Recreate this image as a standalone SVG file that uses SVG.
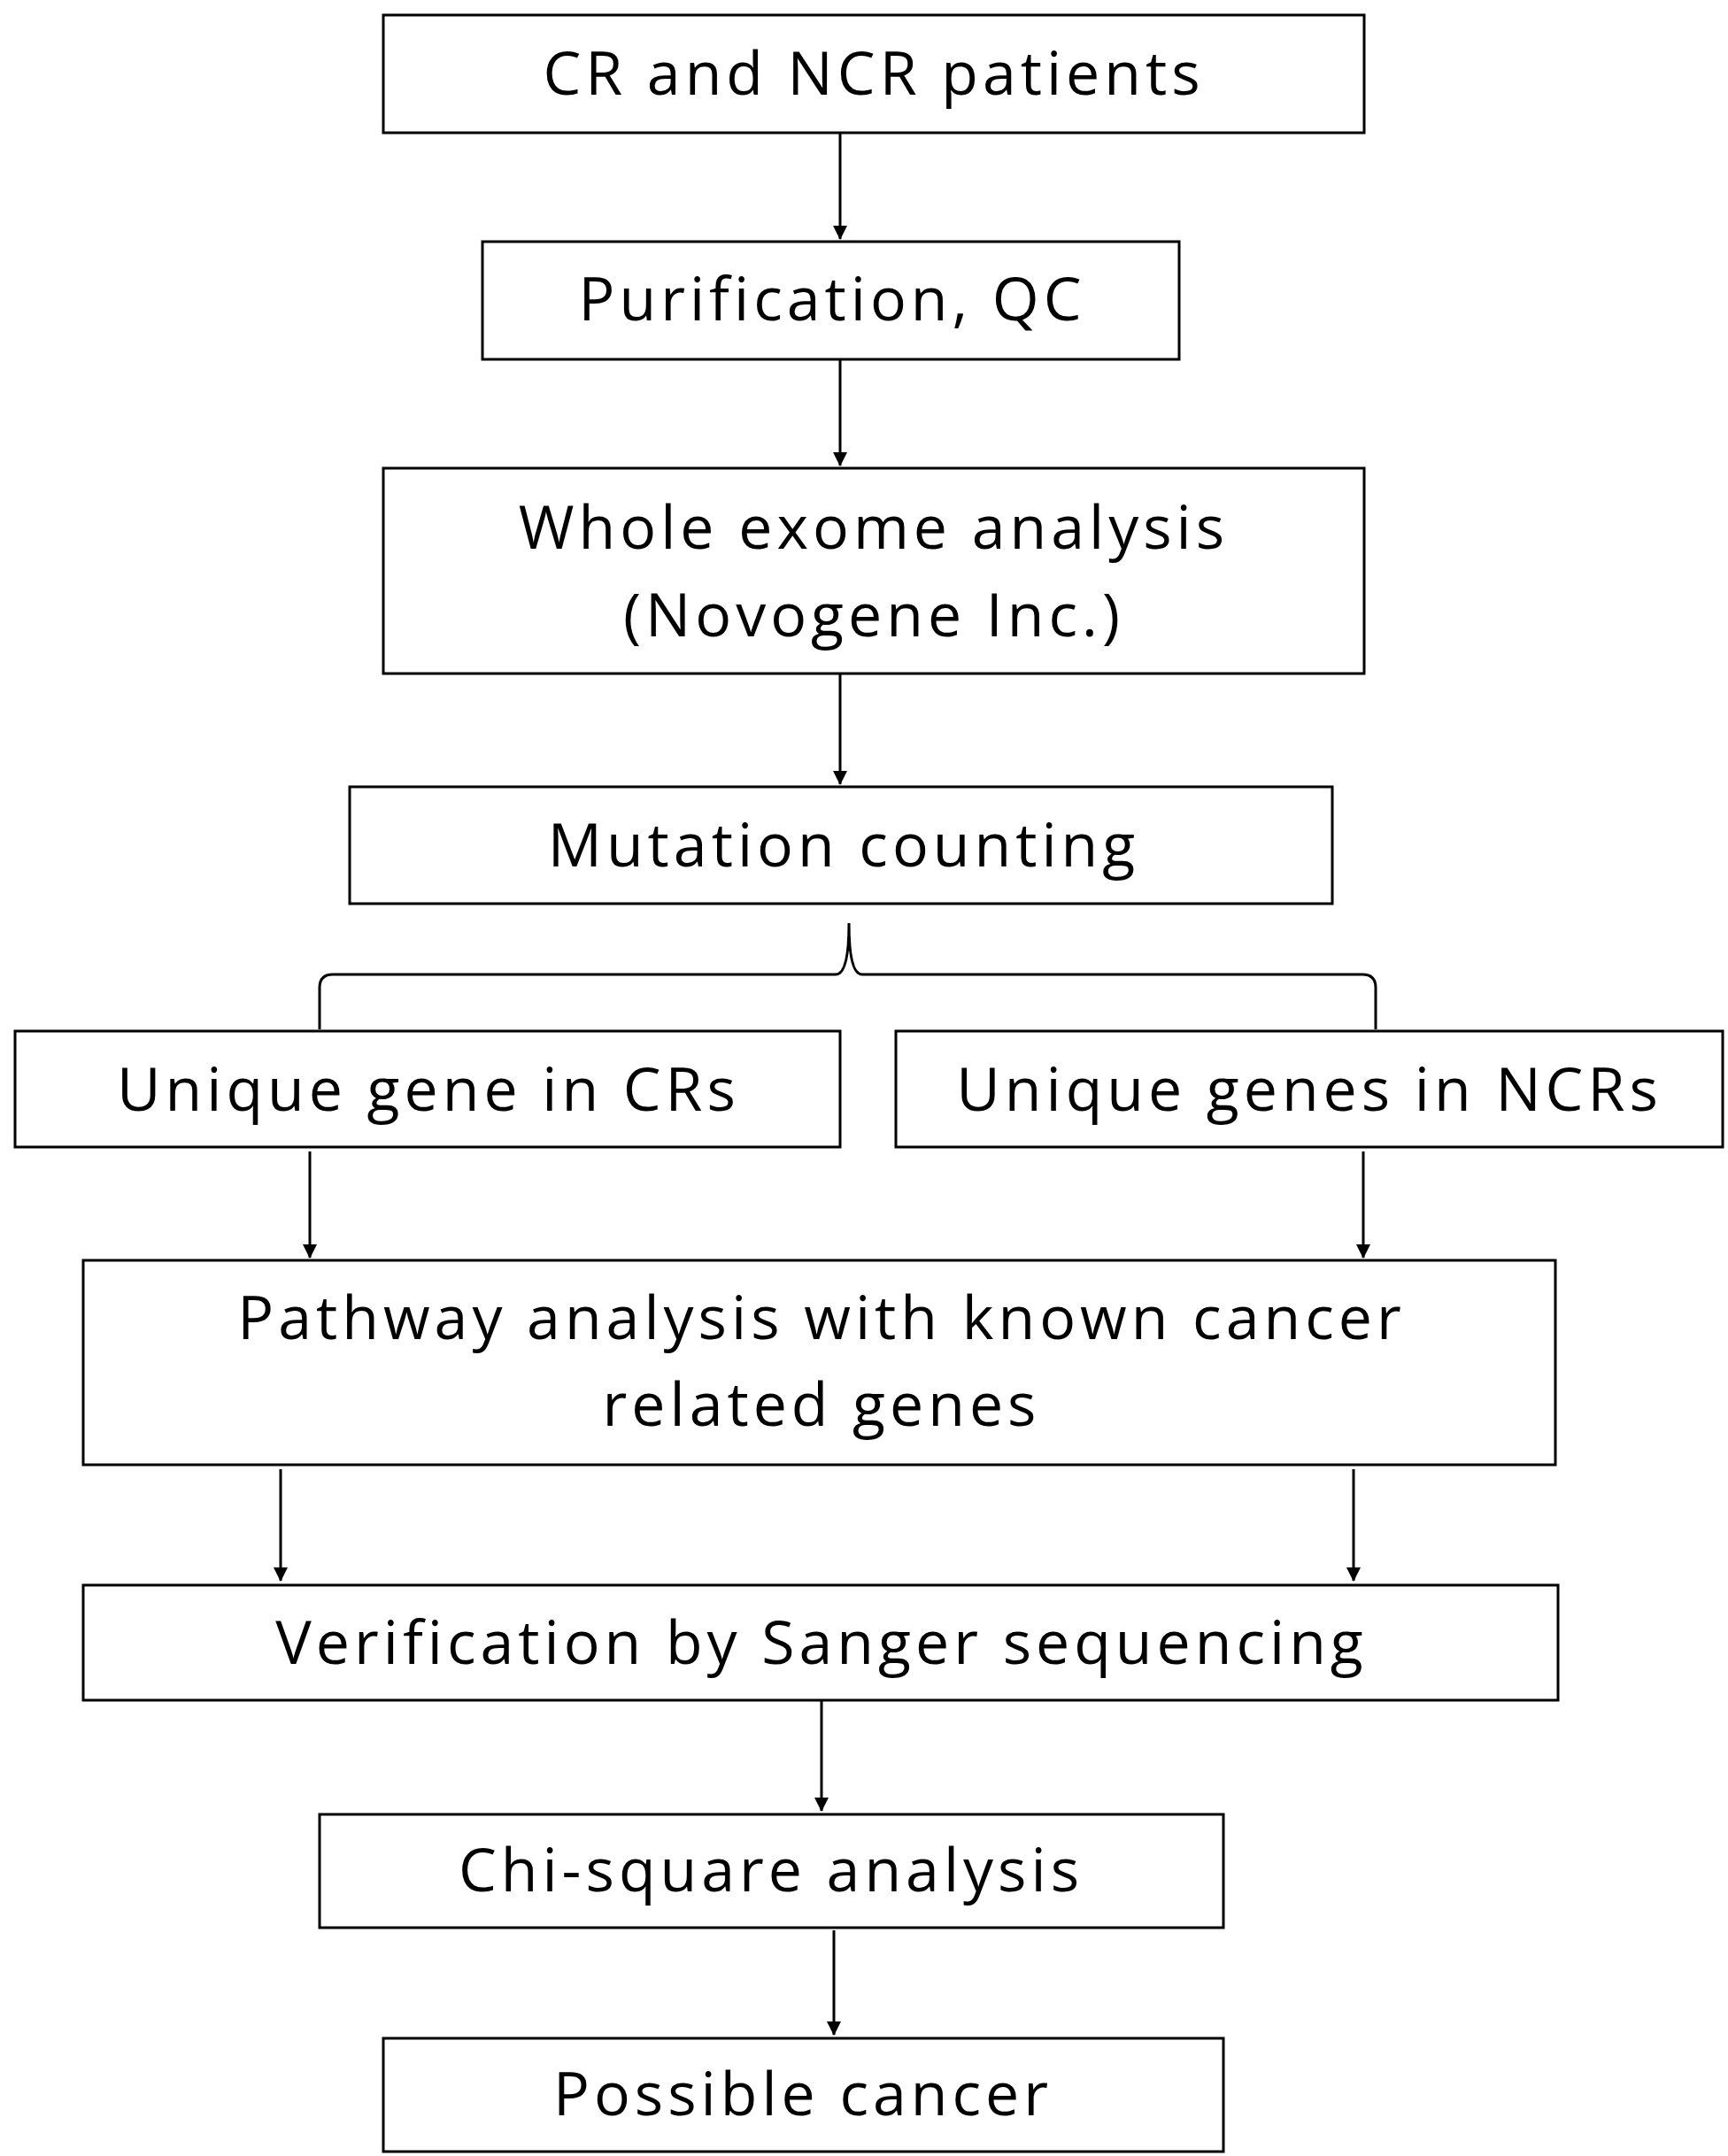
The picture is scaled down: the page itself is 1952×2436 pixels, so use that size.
<svg xmlns="http://www.w3.org/2000/svg" width="1952" height="2436" viewBox="0 0 1952 2436">
<style>
.b{fill:#fff;stroke:#000;stroke-width:3}
text{font-family:"Open Sans","DejaVu Sans",sans-serif;font-size:68px;letter-spacing:5px;text-anchor:middle;fill:#000}
.c{stroke:#000;stroke-width:3;fill:none}
</style>
<defs><marker id="a" markerWidth="16" markerHeight="18" refX="15" refY="8" orient="auto" markerUnits="userSpaceOnUse" viewBox="0 0 16 16"><path d="M0,0L16,8L0,16z"/></marker></defs>
<rect width="1952" height="2436" fill="#fff"/>
<g id="n1"><rect class="b" x="433" y="17" width="1108" height="133"/><text x="987" y="107">CR and NCR patients</text></g>
<g id="n2"><rect class="b" x="545" y="273" width="787" height="133"/><text x="940" y="362">Purification, QC</text></g>
<g id="n3"><rect class="b" x="433" y="529" width="1108" height="232"/><text x="987" y="620">Whole exome analysis</text><text x="987" y="719">(Novogene Inc.)</text></g>
<g id="n4"><rect class="b" x="395" y="889" width="1110" height="132"/><text x="953" y="979">Mutation counting</text></g>
<g id="n5"><rect class="b" x="17" y="1165" width="932" height="131"/><text x="484" y="1255">Unique gene in CRs</text></g>
<g id="n6"><rect class="b" x="1012" y="1165" width="934" height="131"/><text x="1479" y="1255">Unique genes in NCRs</text></g>
<g id="n7"><rect class="b" x="94" y="1424" width="1663" height="231"/><text x="928" y="1513">Pathway analysis with known cancer</text><text x="928" y="1611">related genes</text></g>
<g id="n8"><rect class="b" x="94" y="1791" width="1666" height="130"/><text x="928" y="1880">Verification by Sanger sequencing</text></g>
<g id="n9"><rect class="b" x="361" y="2050" width="1021" height="128"/><text x="871" y="2137">Chi-square analysis</text></g>
<g id="n10"><rect class="b" x="433" y="2303" width="949" height="128"/><text x="907" y="2390">Possible cancer</text></g>
<g id="connectors">
<path class="c" d="M949,150V270" marker-end="url(#a)"/>
<path class="c" d="M949,406V526" marker-end="url(#a)"/>
<path class="c" d="M949,761V886" marker-end="url(#a)"/>
<path class="c" d="M361,1163V1116Q361,1101 376,1101H944Q959,1101 959,1043Q959,1101 974,1101H1539Q1554,1101 1554,1116V1163"/>
<path class="c" d="M350,1301V1421" marker-end="url(#a)"/>
<path class="c" d="M1540,1301V1421" marker-end="url(#a)"/>
<path class="c" d="M317,1660V1786" marker-end="url(#a)"/>
<path class="c" d="M1529,1660V1786" marker-end="url(#a)"/>
<path class="c" d="M928,1922V2046" marker-end="url(#a)"/>
<path class="c" d="M942,2181V2299" marker-end="url(#a)"/>
</g>
</svg>
